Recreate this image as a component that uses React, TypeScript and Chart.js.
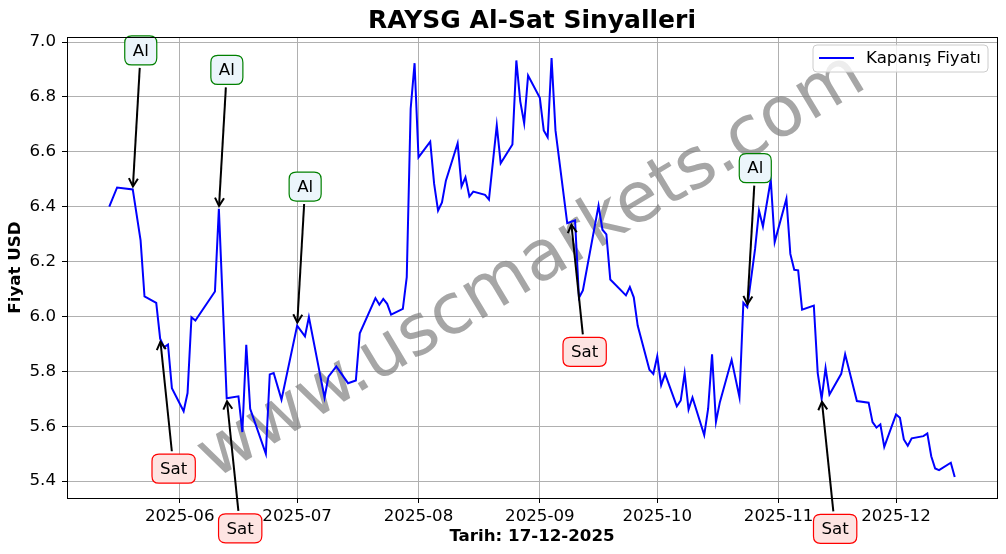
import React, { useEffect, useRef } from 'react';
import { Chart, registerables } from 'chart.js';

Chart.register(...registerables);

const dates: string[] = [
  '2025-05-14','2025-05-16','2025-05-20','2025-05-22','2025-05-23','2025-05-26','2025-05-27','2025-05-28','2025-05-29','2025-05-30',
  '2025-06-02','2025-06-03','2025-06-04','2025-06-05','2025-06-10','2025-06-11','2025-06-13','2025-06-16','2025-06-17','2025-06-18',
  '2025-06-19','2025-06-23','2025-06-24','2025-06-25','2025-06-27','2025-07-01','2025-07-03','2025-07-04','2025-07-08','2025-07-09',
  '2025-07-11','2025-07-14','2025-07-16','2025-07-17','2025-07-21','2025-07-22','2025-07-23','2025-07-24','2025-07-25','2025-07-28',
  '2025-07-29','2025-07-30','2025-07-31','2025-08-01','2025-08-04','2025-08-05','2025-08-06','2025-08-07','2025-08-08','2025-08-11',
  '2025-08-12','2025-08-13','2025-08-14','2025-08-15','2025-08-18','2025-08-19','2025-08-21','2025-08-22','2025-08-25','2025-08-26',
  '2025-08-27','2025-08-28','2025-08-29','2025-09-01','2025-09-02','2025-09-03','2025-09-04','2025-09-05','2025-09-08','2025-09-09',
  '2025-09-10','2025-09-11','2025-09-12','2025-09-16','2025-09-17','2025-09-18','2025-09-19','2025-09-23','2025-09-24','2025-09-25',
  '2025-09-26','2025-09-29','2025-09-30','2025-10-01','2025-10-02','2025-10-03','2025-10-06','2025-10-07','2025-10-08','2025-10-09',
  '2025-10-10','2025-10-13','2025-10-14','2025-10-15','2025-10-16','2025-10-17','2025-10-20','2025-10-22','2025-10-23','2025-10-24',
  '2025-10-26','2025-10-27','2025-10-28','2025-10-30','2025-10-31','2025-11-03','2025-11-04','2025-11-05','2025-11-06','2025-11-07',
  '2025-11-10','2025-11-11','2025-11-12','2025-11-13','2025-11-14','2025-11-17','2025-11-18','2025-11-19','2025-11-21','2025-11-24',
  '2025-11-25','2025-11-26','2025-11-27','2025-11-28','2025-12-01','2025-12-02','2025-12-03','2025-12-04','2025-12-05','2025-12-08',
  '2025-12-09','2025-12-10','2025-12-11','2025-12-12','2025-12-15','2025-12-16',
];

const closes: number[] = [
  6.40, 6.47, 6.463, 6.277, 6.073, 6.05, 5.919, 5.888, 5.898, 5.739,
  5.655, 5.721, 5.997, 5.985, 6.091, 6.392, 5.702, 5.709, 5.579, 5.897,
  5.664, 5.50, 5.789, 5.794, 5.697, 5.967, 5.928, 5.998, 5.704, 5.781,
  5.818, 5.757, 5.767, 5.939, 6.067, 6.043, 6.064, 6.046, 6.007, 6.028,
  6.143, 6.757, 6.923, 6.58, 6.637, 6.483, 6.386, 6.416, 6.495, 6.631,
  6.474, 6.507, 6.437, 6.455, 6.443, 6.426, 6.696, 6.558, 6.627, 6.933,
  6.784, 6.704, 6.878, 6.797, 6.678, 6.653, 6.942, 6.678, 6.34, 6.345,
  6.35, 6.068, 6.095, 6.404, 6.316, 6.299, 6.135, 6.077, 6.107, 6.07,
  5.967, 5.806, 5.791, 5.855, 5.75, 5.791, 5.673, 5.694, 5.793, 5.661,
  5.705, 5.568, 5.664, 5.862, 5.616, 5.688, 5.842, 5.706, 6.05, 6.034,
  6.247, 6.386, 6.328, 6.498, 6.271, 6.429, 6.228, 6.17, 6.168, 6.025,
  6.04, 5.794, 5.70, 5.812, 5.716, 5.791, 5.862, 5.806, 5.692, 5.686,
  5.615, 5.595, 5.607, 5.525, 5.643, 5.631, 5.552, 5.529, 5.556, 5.564,
  5.574, 5.491, 5.446, 5.44, 5.467, 5.415,
];

const buyDates: string[] = ['2025-05-20', '2025-06-11', '2025-07-01', '2025-10-24'];
const sellDates: string[] = ['2025-05-27', '2025-06-13', '2025-09-09', '2025-11-12'];

const yTicks: number[] = [5.4, 5.6, 5.8, 6.0, 6.2, 6.4, 6.6, 6.8, 7.0];
const xTickLabels: string[] = ['2025-06', '2025-07', '2025-08', '2025-09', '2025-10', '2025-11', '2025-12'];

const titleText = 'RAYSG Al-Sat Sinyalleri';
const xLabelText = 'Tarih: 17-12-2025';
const yLabelText = 'Fiyat USD';
const legendText = 'Kapanış Fiyatı';
const buyText = 'Al';
const sellText = 'Sat';
const watermarkText = 'www.uscmarkets.com';

const FONT = '"DejaVu Sans", sans-serif';
const FS = 16.67;
const toMs = (s: string) => Date.parse(s + 'T00:00:00Z');

export default function App() {
  const ref = useRef<HTMLCanvasElement | null>(null);

  useEffect(() => {
    document.body.style.margin = '0';
    const canvas = ref.current;
    if (!canvas) return;

    const xs = dates.map(toMs);
    const pts = xs.map((x, i) => ({ x, y: closes[i] }));
    const xr = xs[xs.length - 1] - xs[0];
    const xMin = xs[0] - xr * 0.05;
    const xMax = xs[xs.length - 1] + xr * 0.05;
    const yLo = Math.min(...closes);
    const yHi = Math.max(...closes);
    const yr = yHi - yLo;
    const yMin = yLo - yr * 0.05;
    const yMax = yHi + yr * 0.05;

    const roundRect = (ctx: CanvasRenderingContext2D, x: number, y: number, w: number, h: number, r: number) => {
      ctx.beginPath();
      ctx.moveTo(x + r, y);
      ctx.lineTo(x + w - r, y);
      ctx.quadraticCurveTo(x + w, y, x + w, y + r);
      ctx.lineTo(x + w, y + h - r);
      ctx.quadraticCurveTo(x + w, y + h, x + w - r, y + h);
      ctx.lineTo(x + r, y + h);
      ctx.quadraticCurveTo(x, y + h, x, y + h - r);
      ctx.lineTo(x, y + r);
      ctx.quadraticCurveTo(x, y, x + r, y);
      ctx.closePath();
    };

    const decor = {
      id: 'decor',
      beforeDatasetsDraw(chart: any) {
        const { ctx, chartArea } = chart;
        ctx.save();
        ctx.beginPath();
        ctx.rect(chartArea.left, chartArea.top, chartArea.right - chartArea.left, chartArea.bottom - chartArea.top);
        ctx.clip();
        const cx = (chartArea.left + chartArea.right) / 2;
        const cy = (chartArea.top + chartArea.bottom) / 2;
        ctx.translate(cx, cy);
        ctx.rotate((-31 * Math.PI) / 180);
        ctx.font = `70px ${FONT}`;
        ctx.fillStyle = 'rgba(128,128,128,0.7)';
        ctx.textAlign = 'center';
        ctx.textBaseline = 'middle';
        ctx.fillText(watermarkText, 0, 0);
        ctx.restore();
      },
      afterDatasetsDraw(chart: any) {
        const { ctx } = chart;
        const xS = chart.scales.x;
        const yS = chart.scales.y;
        const drawSignal = (d: string, isBuy: boolean) => {
          const idx = dates.indexOf(d);
          if (idx < 0) return;
          const px = xS.getPixelForValue(xs[idx]);
          const py = yS.getPixelForValue(closes[idx]);
          const label = isBuy ? buyText : sellText;
          const cx = px + (isBuy ? 8 : 13.5);
          const cy = py + (isBuy ? -139 : 130);
          ctx.save();
          ctx.font = `${FS}px ${FONT}`;
          const tw = ctx.measureText(label).width;
          const bw = tw + 16;
          const bh = 29;
          const dx = px - cx;
          const dy = py - cy;
          const len = Math.hypot(dx, dy);
          const ux = dx / len;
          const uy = dy / len;
          const t = Math.min(Math.abs(bw / 2 / (ux || 1e-9)), Math.abs(bh / 2 / (uy || 1e-9)));
          const sx = cx + ux * (t + 3);
          const sy = cy + uy * (t + 3);
          const ex = px - ux * 3;
          const ey = py - uy * 3;
          ctx.strokeStyle = '#000000';
          ctx.lineWidth = 2;
          ctx.lineCap = 'butt';
          ctx.beginPath();
          ctx.moveTo(sx, sy);
          ctx.lineTo(ex, ey);
          ctx.stroke();
          const hl = 8;
          const hw = 4.5;
          ctx.beginPath();
          ctx.moveTo(ex - ux * hl - uy * hw, ey - uy * hl + ux * hw);
          ctx.lineTo(ex, ey);
          ctx.lineTo(ex - ux * hl + uy * hw, ey - uy * hl - ux * hw);
          ctx.stroke();
          roundRect(ctx, cx - bw / 2, cy - bh / 2, bw, bh, 7);
          ctx.fillStyle = isBuy ? '#ecf5fb' : '#fde4e2';
          ctx.fill();
          ctx.lineWidth = 1.2;
          ctx.strokeStyle = isBuy ? '#008000' : '#ff0000';
          ctx.stroke();
          ctx.fillStyle = '#000000';
          ctx.textAlign = 'center';
          ctx.textBaseline = 'middle';
          ctx.fillText(label, cx, cy + 1);
          ctx.restore();
        };
        buyDates.forEach((d) => drawSignal(d, true));
        sellDates.forEach((d) => drawSignal(d, false));
      },
      afterDraw(chart: any) {
        const { ctx, chartArea } = chart;
        const { left, right, top, bottom } = chartArea;
        ctx.save();
        ctx.strokeStyle = '#000000';
        ctx.lineWidth = 1;
        ctx.strokeRect(Math.round(left) + 0.5, Math.round(top) + 0.5, Math.round(right - left), Math.round(bottom - top));
        ctx.fillStyle = '#000000';
        ctx.textAlign = 'center';
        ctx.textBaseline = 'middle';
        ctx.font = `bold 25px ${FONT}`;
        ctx.fillText(titleText, (left + right) / 2, 21);
        ctx.font = `bold ${FS}px ${FONT}`;
        ctx.fillText(xLabelText, (left + right) / 2, 537);
        ctx.save();
        ctx.translate(16, (top + bottom) / 2);
        ctx.rotate(-Math.PI / 2);
        ctx.fillText(yLabelText, 0, 0);
        ctx.restore();
        ctx.font = `${FS}px ${FONT}`;
        const tw = ctx.measureText(legendText).width;
        const bw = 6 + 35 + 12 + tw + 7;
        const bh = 27;
        const bx = right - 9 - bw;
        const by = top + 8;
        roundRect(ctx, bx, by, bw, bh, 4);
        ctx.fillStyle = 'rgba(255,255,255,0.8)';
        ctx.fill();
        ctx.strokeStyle = '#cccccc';
        ctx.lineWidth = 1;
        ctx.stroke();
        ctx.strokeStyle = '#0000ff';
        ctx.lineWidth = 2;
        ctx.beginPath();
        ctx.moveTo(bx + 6, by + 13);
        ctx.lineTo(bx + 41, by + 13);
        ctx.stroke();
        ctx.fillStyle = '#000000';
        ctx.textAlign = 'left';
        ctx.fillText(legendText, bx + 53, by + 14);
        ctx.restore();
      },
    };

    const chart = new Chart(canvas, {
      type: 'line',
      data: {
        datasets: [
          {
            label: legendText,
            data: pts,
            borderColor: '#0000ff',
            borderWidth: 2,
            pointRadius: 0,
            tension: 0,
            fill: false,
          },
        ],
      },
      options: {
        animation: false,
        responsive: false,
        devicePixelRatio: 1,
        parsing: false,
        layout: { padding: { top: 37, right: 9, left: 0, bottom: 0 } },
        plugins: {
          legend: { display: false },
          title: { display: false },
          tooltip: { enabled: false },
        },
        scales: {
          x: {
            type: 'linear',
            min: xMin,
            max: xMax,
            afterBuildTicks: (s: any) => {
              s.ticks = xTickLabels.map((l) => ({ value: toMs(l + '-01') }));
            },
            afterFit: (s: any) => {
              s.height = 56;
            },
            ticks: {
              autoSkip: false,
              maxRotation: 0,
              padding: 4,
              color: '#000000',
              font: { family: FONT, size: FS },
              callback: (v: any) => {
                const d = new Date(Number(v));
                return `${d.getUTCFullYear()}-${String(d.getUTCMonth() + 1).padStart(2, '0')}`;
              },
            },
            grid: { color: '#b0b0b0', lineWidth: 1, drawTicks: true, tickLength: 5, tickColor: '#000000', tickWidth: 1 },
            border: { display: false },
          },
          y: {
            type: 'linear',
            min: yMin,
            max: yMax,
            afterBuildTicks: (s: any) => {
              s.ticks = yTicks.map((v) => ({ value: v }));
            },
            afterFit: (s: any) => {
              s.width = 67;
            },
            ticks: {
              autoSkip: false,
              padding: 6,
              color: '#000000',
              font: { family: FONT, size: FS },
              callback: (v: any) => Number(v).toFixed(1),
            },
            grid: { color: '#b0b0b0', lineWidth: 1, drawTicks: true, tickLength: 5, tickColor: '#000000', tickWidth: 1 },
            border: { display: false },
          },
        },
      },
      plugins: [decor],
    } as any);

    return () => chart.destroy();
  }, []);

  return (
    <div style={{ width: 1006, height: 554, position: 'relative' }}>
      <canvas ref={ref} width={1006} height={554} style={{ display: 'block', width: 1006, height: 554 }} />
    </div>
  );
}
